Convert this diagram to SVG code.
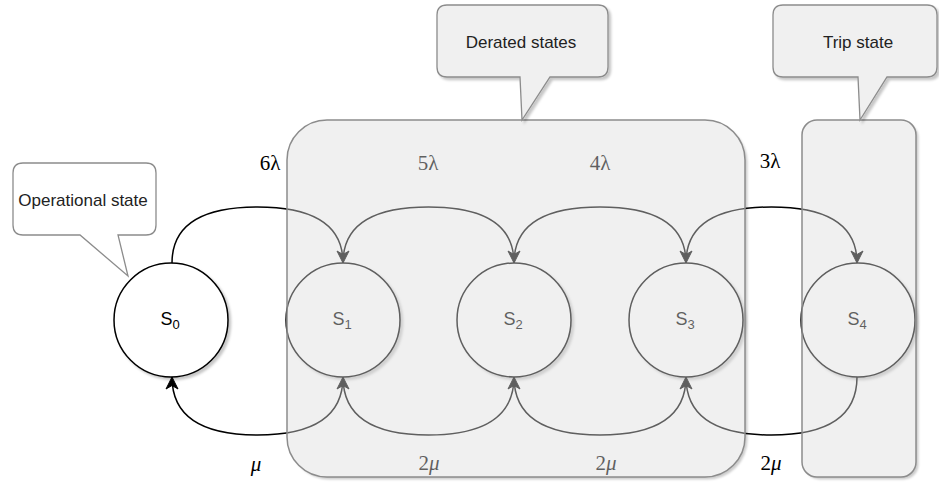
<svg xmlns="http://www.w3.org/2000/svg" width="939" height="484" viewBox="0 0 939 484">
<style>
.edge{fill:none;stroke:#000;stroke-width:1.5}
.node{fill:#fff;stroke:#000;stroke-width:1.5}
.nlab{font-family:"Liberation Sans",Arial,sans-serif;font-size:18px;fill:#000;text-anchor:middle}
.sub{font-size:13px}
.math{font-family:"Liberation Serif","Times New Roman",serif;font-size:21px;fill:#000;text-anchor:middle}
.it{font-style:italic}
.group{fill:#dcdcdc;fill-opacity:0.43;stroke:#8c8c8c;stroke-width:1.5}
.gshadow{fill:#000;fill-opacity:0.2}
.callout{stroke:#8c8c8c;stroke-width:1.3}
.ctext{font-family:"Liberation Sans",Arial,sans-serif;font-size:17px;fill:#222;text-anchor:middle}
</style>
<defs>
<marker id="arrow" markerUnits="userSpaceOnUse" markerWidth="14" markerHeight="14" viewBox="0 0 14 14" refX="13" refY="7" orient="auto">
<path d="M1,1 L13,7 L1,13 L4.5,7 Z" fill="#000" stroke="#000" stroke-width="1"/>
</marker>
<filter id="shadow" x="-10%" y="-10%" width="130%" height="130%">
<feDropShadow dx="2.5" dy="2.5" stdDeviation="1.2" flood-color="#000" flood-opacity="0.22"/>
</filter>
<filter id="blur" x="-5%" y="-5%" width="110%" height="110%">
<feGaussianBlur stdDeviation="1.2"/>
</filter>
<mask id="outD">
<rect width="939" height="484" fill="#fff"/>
<rect x="287" y="120" width="458" height="357" rx="40" ry="40" fill="#000"/>
</mask>
<mask id="outT">
<rect width="939" height="484" fill="#fff"/>
<rect x="802" y="120" width="114" height="357" rx="15" ry="15" fill="#000"/>
</mask>
</defs>

<g id="connectors">
<path class="edge" marker-end="url(#arrow)" d="M172,263 Q172,207 257.5,207 Q343,207 343,263"/>
<path class="edge" marker-end="url(#arrow)" d="M343,263 Q343,207 428.5,207 Q514,207 514,263"/>
<path class="edge" marker-end="url(#arrow)" d="M514,263 Q514,207 600,207 Q686,207 686,263"/>
<path class="edge" marker-end="url(#arrow)" d="M686,263 Q686,207 771.5,207 Q857,207 857,263"/>
<path class="edge" marker-end="url(#arrow)" d="M343,377 Q343,435 257.5,435 Q172,435 172,377"/>
<path class="edge" marker-end="url(#arrow)" d="M514,377 Q514,435 428.5,435 Q343,435 343,377"/>
<path class="edge" marker-end="url(#arrow)" d="M686,377 Q686,435 600,435 Q514,435 514,377"/>
<path class="edge" marker-end="url(#arrow)" d="M857,377 Q857,435 771.5,435 Q686,435 686,377"/>
<text class="math" x="270" y="170">6λ</text>
<text class="math" x="428" y="170">5λ</text>
<text class="math" x="600" y="170">4λ</text>
<text class="math" x="770" y="168">3λ</text>
<text class="math it" x="256" y="471">μ</text>
<text class="math" x="429" y="470">2<tspan class="it">μ</tspan></text>
<text class="math" x="606" y="470">2<tspan class="it">μ</tspan></text>
<text class="math" x="771" y="470">2<tspan class="it">μ</tspan></text>
</g>

<g id="node-s0">
<circle class="node" cx="171" cy="320" r="57" filter="url(#shadow)"/>
<text class="nlab" x="170" y="325">S<tspan class="sub" dy="4">0</tspan></text>
</g>
<g id="node-s1">
<circle class="node" cx="343" cy="320" r="57" filter="url(#shadow)"/>
<text class="nlab" x="342" y="325">S<tspan class="sub" dy="4">1</tspan></text>
</g>
<g id="node-s2">
<circle class="node" cx="514" cy="320" r="57" filter="url(#shadow)"/>
<text class="nlab" x="513" y="325">S<tspan class="sub" dy="4">2</tspan></text>
</g>
<g id="node-s3">
<circle class="node" cx="686" cy="320" r="57" filter="url(#shadow)"/>
<text class="nlab" x="685" y="325">S<tspan class="sub" dy="4">3</tspan></text>
</g>
<g id="node-s4">
<circle class="node" cx="858" cy="320" r="57" filter="url(#shadow)"/>
<text class="nlab" x="857" y="325">S<tspan class="sub" dy="4">4</tspan></text>
</g>

<g id="derated-states-group">
<g mask="url(#outD)"><rect class="gshadow" x="289.5" y="122.5" width="458" height="357" rx="40" ry="40" filter="url(#blur)"/></g>
<rect class="group" x="287" y="120" width="458" height="357" rx="40" ry="40"/>
</g>
<g id="trip-state-group">
<g mask="url(#outT)"><rect class="gshadow" x="804.5" y="122.5" width="114" height="357" rx="15" ry="15" filter="url(#blur)"/></g>
<rect class="group" x="802" y="120" width="114" height="357" rx="15" ry="15"/>
</g>

<g id="callout-operational">
<path class="callout" fill="#fff" d="M23,163 H146 Q156,163 156,173 V225 Q156,235 146,235 H118 L128,276 L80,235 H23 Q13,235 13,225 V173 Q13,163 23,163 Z"/>
<text class="ctext" x="83" y="206">Operational state</text>
</g>
<g id="callout-derated">
<path class="callout" fill="#f0f0f0" filter="url(#shadow)" d="M447,5 H598 Q608,5 608,15 V67 Q608,77 598,77 H550 L522,120 L520,77 H447 Q437,77 437,67 V15 Q437,5 447,5 Z"/>
<text class="ctext" x="521" y="48">Derated states</text>
</g>
<g id="callout-trip">
<path class="callout" fill="#f0f0f0" filter="url(#shadow)" d="M783,5 H927 Q937,5 937,15 V67 Q937,77 927,77 H887 L860,120 L858,77 H783 Q773,77 773,67 V15 Q773,5 783,5 Z"/>
<text class="ctext" x="858" y="48">Trip state</text>
</g>
</svg>
